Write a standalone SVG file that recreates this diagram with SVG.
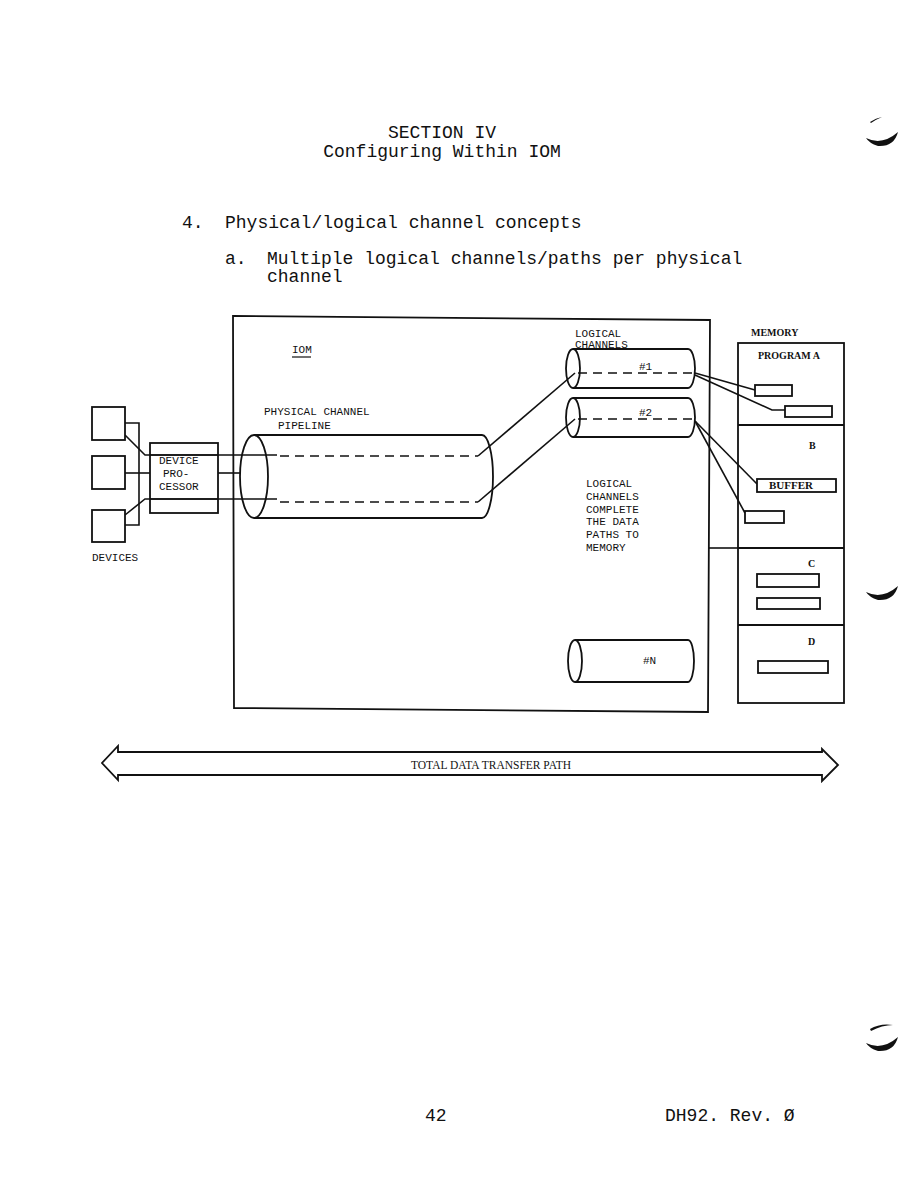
<svg xmlns="http://www.w3.org/2000/svg" width="918" height="1188" viewBox="0 0 918 1188">
<style>
.pg{font-family:"Liberation Mono","DejaVu Sans Mono",monospace;font-size:18px;fill:#111}
.lb{font-family:"Liberation Mono","DejaVu Sans Mono",monospace;font-size:11px;fill:#111}
.mb{font-family:"Liberation Serif","DejaVu Serif",serif;font-size:11px;font-weight:bold;fill:#111}
.sm{font-family:"Liberation Serif","DejaVu Serif",serif;font-size:11.5px;fill:#111}
.ln{fill:none;stroke:#111;stroke-width:1.6}
.dl{fill:none;stroke:#111;stroke-width:1.3;stroke-dasharray:9 6}
.bx{fill:#fff;stroke:#111;stroke-width:1.8}
</style>
<rect width="918" height="1188" fill="#fff"/>
<g id="page-text">
<text class="pg" x="442" y="138" text-anchor="middle">SECTION IV</text>
<text class="pg" x="442" y="157" text-anchor="middle">Configuring Within IOM</text>
<text class="pg" x="182" y="228">4.</text>
<text class="pg" x="225" y="228">Physical/logical channel concepts</text>
<text class="pg" x="225" y="264">a.</text>
<text class="pg" x="267" y="264">Multiple logical channels/paths per physical</text>
<text class="pg" x="267" y="282">channel</text>
<text class="pg" x="425" y="1121">42</text>
<text class="pg" x="665" y="1121">DH92. Rev. Ø</text>
</g>
<g id="iom">
<path class="ln" d="M233,316 L710,320 L708,712 L234,708 Z" style="stroke-width:1.8"/>
<text class="lb" x="292" y="353">IOM</text>
<line class="ln" x1="292" y1="357" x2="311" y2="357" style="stroke-width:1.2"/>
</g>
<g id="connectors">
<polyline class="ln" points="125,423 139,423 139,525 125,525"/>
<polyline class="ln" points="125,435 145,455 277,455"/>
<polyline class="ln" points="125,515 145,499 277,499"/>
<line class="ln" x1="125" y1="473" x2="150" y2="473"/>
<line class="ln" x1="218" y1="473" x2="241" y2="473"/>
<line class="ln" x1="478" y1="456" x2="575" y2="373"/>
<line class="ln" x1="478" y1="502" x2="575" y2="419"/>
<line class="ln" x1="695" y1="373" x2="755" y2="390"/>
<polyline class="ln" points="695,375 772,410 785,410"/>
<line class="ln" x1="695" y1="421" x2="757" y2="484"/>
<line class="ln" x1="695" y1="421" x2="745" y2="513"/>
<line class="ln" x1="709" y1="548" x2="739" y2="548"/>
</g>
<g id="devices">
<rect class="bx" x="92" y="407" width="33" height="33"/>
<rect class="bx" x="92" y="456" width="33" height="33"/>
<rect class="bx" x="92" y="510" width="33" height="32"/>
<text class="lb" x="92" y="561">DEVICES</text>
</g>
<g id="device-processor">
<rect class="ln" x="150" y="443" width="68" height="70" style="stroke-width:1.8"/>
<line class="ln" x1="150" y1="455" x2="218" y2="455"/>
<line class="ln" x1="150" y1="499" x2="218" y2="499"/>
<text class="lb" x="159" y="464">DEVICE</text>
<text class="lb" x="163" y="477">PRO-</text>
<text class="lb" x="159" y="490">CESSOR</text>
</g>
<g id="physical-pipeline">
<path class="ln" d="M254,435 L482,435 A11,41.5 0 0 1 482,518 L254,518" style="stroke-width:1.8"/>
<ellipse class="ln" cx="254" cy="476.5" rx="14" ry="41.5" style="stroke-width:1.8"/>
<line class="dl" x1="280" y1="456" x2="478" y2="456"/>
<line class="dl" x1="280" y1="502" x2="478" y2="502"/>
<text class="lb" x="264" y="415">PHYSICAL CHANNEL</text>
<text class="lb" x="278" y="429">PIPELINE</text>
</g>
<g id="logical-channel-1">
<path class="ln" d="M573,349 L688,349 A7,19.5 0 0 1 688,388 L573,388" style="stroke-width:1.8"/>
<ellipse class="ln" cx="573" cy="368.5" rx="7" ry="19.5" style="stroke-width:1.8"/>
<line class="dl" x1="578" y1="373" x2="695" y2="373"/>
<text class="lb" x="639" y="370">#1</text>
<text class="lb" x="575" y="337">LOGICAL</text>
<text class="lb" x="575" y="348">CHANNELS</text>
</g>
<g id="logical-channel-2">
<path class="ln" d="M573,398 L688,398 A7,19.5 0 0 1 688,437 L573,437" style="stroke-width:1.8"/>
<ellipse class="ln" cx="573" cy="417.5" rx="7" ry="19.5" style="stroke-width:1.8"/>
<line class="dl" x1="578" y1="419" x2="695" y2="419"/>
<text class="lb" x="639" y="416">#2</text>
</g>
<g id="logical-channel-n">
<path class="ln" d="M575,640 L688,640 A6,21 0 0 1 688,682 L575,682" style="stroke-width:1.8"/>
<ellipse class="ln" cx="575" cy="661" rx="7" ry="21" style="stroke-width:1.8"/>
<text class="lb" x="643" y="664">#N</text>
</g>
<g id="note">
<text class="lb" x="586" y="487">LOGICAL</text>
<text class="lb" x="586" y="500">CHANNELS</text>
<text class="lb" x="586" y="513">COMPLETE</text>
<text class="lb" x="586" y="525">THE DATA</text>
<text class="lb" x="586" y="538">PATHS TO</text>
<text class="lb" x="586" y="551">MEMORY</text>
</g>
<g id="memory">
<text class="mb" x="751" y="336" style="font-size:10px">MEMORY</text>
<rect class="ln" x="738" y="343" width="106" height="360" style="stroke-width:1.8"/>
<line class="ln" x1="738" y1="425" x2="844" y2="425" style="stroke-width:1.8"/>
<line class="ln" x1="738" y1="548" x2="844" y2="548" style="stroke-width:1.8"/>
<line class="ln" x1="738" y1="625" x2="844" y2="625" style="stroke-width:1.8"/>
<text class="mb" x="758" y="359" style="font-size:10px">PROGRAM A</text>
<rect class="bx" x="755" y="385" width="37" height="11"/>
<rect class="bx" x="785" y="406" width="47" height="11"/>
<text class="mb" x="809" y="449" style="font-size:10px">B</text>
<rect class="bx" x="757" y="479" width="79" height="13"/>
<text class="mb" x="769" y="489">BUFFER</text>
<rect class="bx" x="745" y="511" width="39" height="12"/>
<text class="mb" x="808" y="567" style="font-size:10px">C</text>
<rect class="bx" x="757" y="574" width="62" height="13"/>
<rect class="bx" x="757" y="598" width="63" height="11"/>
<text class="mb" x="808" y="645" style="font-size:10px">D</text>
<rect class="bx" x="758" y="661" width="70" height="12"/>
</g>
<g id="total-path">
<path class="ln" d="M118,752 L822,752 L822,749 L838,765 L822,781 L822,775 L118,775 L118,780 L102,763 L118,746 Z" style="stroke-width:1.8"/>
<text class="sm" x="491" y="769" text-anchor="middle">TOTAL DATA TRANSFER PATH</text>
</g>
<g id="binder-marks" fill="#111" stroke="none">
<path d="M870,122 Q876,118 882,117 Q877,119 871,123 Z"/>
<path d="M866,138 Q882,146 898,132 Q894,147 878,146 Q869,143 866,138 Z"/>
<path d="M866,592 Q882,600 898,586 Q894,601 878,600 Q869,597 866,592 Z"/>
<path d="M870,1029 Q880,1023 893,1025 Q882,1025 871,1031 Z"/>
<path d="M866,1043 Q882,1051 898,1037 Q894,1052 878,1051 Q869,1048 866,1043 Z"/>
</g>
</svg>
